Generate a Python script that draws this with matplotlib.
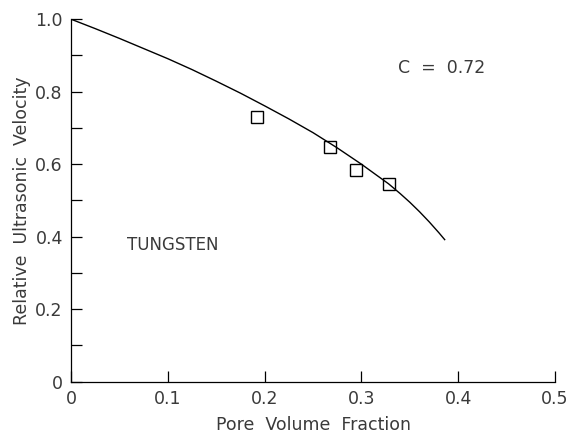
import matplotlib
matplotlib.use("Agg")
import matplotlib.pyplot as plt
from matplotlib.ticker import MultipleLocator, FixedFormatter, FixedLocator

# curva del modelo
curva_x = [0.0, 0.025, 0.05, 0.075, 0.1, 0.125, 0.15, 0.175, 0.2, 0.225,
           0.25, 0.275, 0.3, 0.315, 0.328, 0.34, 0.35, 0.36, 0.37, 0.38, 0.386]
curva_y = [1.000, 0.974, 0.947, 0.919, 0.891, 0.861, 0.829, 0.796, 0.761,
           0.725, 0.687, 0.645, 0.600, 0.571, 0.546, 0.519, 0.495, 0.469,
           0.441, 0.411, 0.392]

# datos medidos
poro = [0.192, 0.268, 0.294, 0.328]
velocidad = [0.730, 0.648, 0.583, 0.546]

x_ticks = [0, 0.1, 0.2, 0.3, 0.4, 0.5]
x_labels = ["0", "0.1", "0.2", "0.3", "0.4", "0.5"]
y_ticks = [0, 0.2, 0.4, 0.6, 0.8, 1.0]
y_labels = ["0", "0.2", "0.4", "0.6", "0.8", "1.0"]

texto_color = "#3a3a3a"
plt.rcParams['font.family'] = ['DejaVu Sans']

fig = plt.figure(figsize=(5.83, 4.37), dpi=100)
ax = fig.add_axes([0.122, 0.1265, 0.830, 0.8295])

ax.plot(curva_x, curva_y, color="black", lw=1.0)
ax.plot(poro, velocidad, "s", ms=8, mfc="none", mec="black", mew=1.0)

ax.set_xlim(0, 0.5)
ax.set_ylim(0, 1.0)
for lado in ["top", "right"]:
    ax.spines[lado].set_visible(False)
for lado in ["left", "bottom"]:
    ax.spines[lado].set_linewidth(0.9)

ax.xaxis.set_major_locator(FixedLocator(x_ticks))
ax.xaxis.set_major_formatter(FixedFormatter(x_labels))
ax.yaxis.set_major_locator(FixedLocator(y_ticks))
ax.yaxis.set_major_formatter(FixedFormatter(y_labels))
ax.yaxis.set_minor_locator(MultipleLocator(0.1))
ax.tick_params(which="both", direction="in", length=8, width=0.9,
               labelsize=12.5, labelcolor=texto_color, pad=6)

ax.set_xlabel("Pore  Volume  Fraction", fontsize=12.5, color=texto_color, labelpad=6)
ax.set_ylabel("Relative  Ultrasonic  Velocity", fontsize=12.5, color=texto_color, labelpad=3)

ax.text(0.338, 0.866, "C  =  0.72", fontsize=12.5, color=texto_color, va="center")
ax.text(0.0575, 0.377, "TUNGSTEN", fontsize=12, color=texto_color, va="center")

fig.savefig("out.png", dpi=100)
